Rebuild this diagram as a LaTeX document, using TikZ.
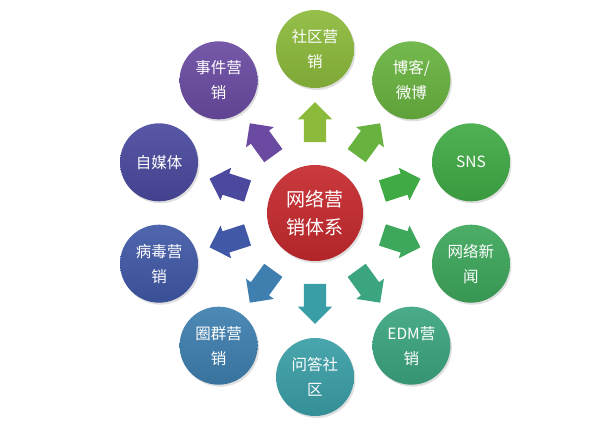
\documentclass[tikz,border=0pt]{standalone}
\usepackage{fontspec}
\newfontfamily\cjk{Noto Sans CJK SC}
\usetikzlibrary{calc,shadows,shapes.arrows}
\definecolor{chub}{HTML}{C5292D}
\definecolor{csocial}{HTML}{8CBA3B}
\definecolor{cblog}{HTML}{68B33F}
\definecolor{csns}{HTML}{40AA45}
\definecolor{cnews}{HTML}{3DA75B}
\definecolor{cedm}{HTML}{3BA57F}
\definecolor{cqa}{HTML}{3A9EA6}
\definecolor{cgroup}{HTML}{3E7FAF}
\definecolor{cviral}{HTML}{4058A6}
\definecolor{cmedia}{HTML}{4A499E}
\definecolor{cevent}{HTML}{6A4AA1}
\tikzset{
	disc/.style={circle, inner sep=0pt, align=center, text=white,
		top color=#1!92!white, bottom color=#1!90!black,
		drop shadow={opacity=0.25, shadow xshift=1.5pt, shadow yshift=-2pt}},
	hub/.style={disc=chub, minimum size=96pt, font=\cjk\fontsize{19}{28}\selectfont},
	spoke/.style={disc=#1, minimum size=78pt, font=\cjk\fontsize{15.5}{25}\selectfont},
	ray/.style={single arrow, draw=none, fill=#1, inner sep=11pt,
		minimum height=40pt, single arrow head extend=6pt}
}

\begin{document}
\begin{tikzpicture}[x=1pt, y=1pt]
			%%%%% START %%%%%
			\useasboundingbox (-315, -210) rectangle (283, 213);
			
			\node[hub] (core) at (0, 0) {网络营\\销体系};
			
			\foreach \a/\col/\txt [count=\i] in {90/csocial/{社区营\\销}, 54/cblog/{博客/\\微博}, 18/csns/{SNS}, -18/cnews/{网络新\\闻}, -54/cedm/{EDM营\\销}, -90/cqa/{问答社\\区}, -126/cgroup/{圈群营\\销}, -162/cviral/{病毒营\\销}, 162/cmedia/{自媒体}, 126/cevent/{事件营\\销}}
			{
				\node[spoke=\col] (ring\i) at (\a:164) {\txt};
				\node[ray=\col, rotate=\a] (ray\i) at ($(core)!0.52!(ring\i)$) {};
			}
			
			%%%%% END %%%%%
\end{tikzpicture}
\end{document}
